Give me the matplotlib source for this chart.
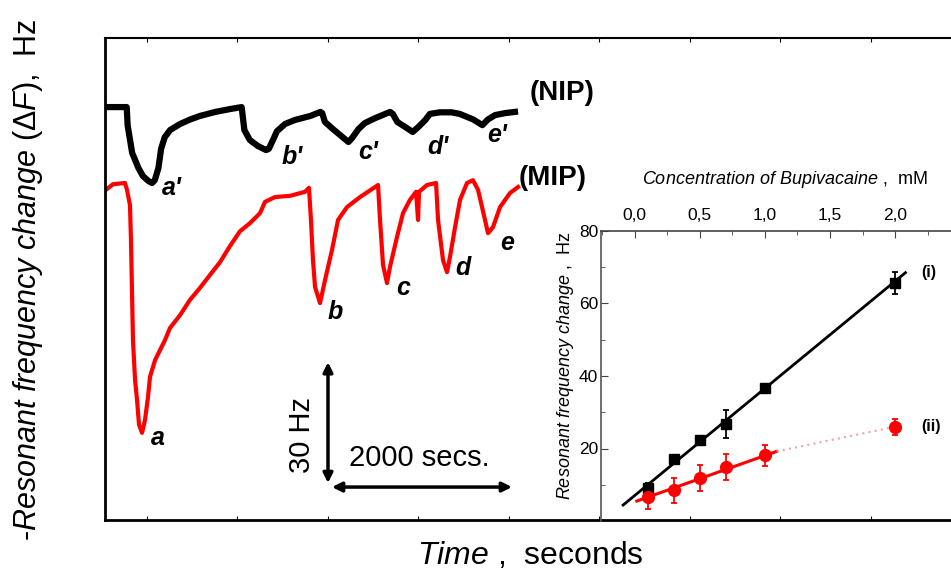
import matplotlib
matplotlib.use("Agg")
import matplotlib.pyplot as plt

plt.rcParams['font.family'] = ['Liberation Sans', 'DejaVu Sans']
plt.rcParams['mathtext.fontset'] = 'custom'
plt.rcParams['mathtext.rm'] = 'Liberation Sans'
plt.rcParams['mathtext.it'] = 'Liberation Sans:italic'
plt.rcParams['mathtext.bf'] = 'Liberation Sans:bold'

# --- main sensorgram (time in s, -dF in Hz, arbitrary offset) ---
nip_t = [20, 240, 250, 300, 370, 420, 480, 520, 550, 590, 620, 660, 720, 830, 940,
         1050, 1220, 1380, 1510, 1540, 1600, 1690, 1780, 1810, 1860, 1900, 1990,
         2100, 2270, 2380, 2400, 2430, 2520, 2600, 2690, 2730, 2800, 2870, 2980,
         3150, 3180, 3230, 3320, 3400, 3460, 3540, 3590, 3700, 3830, 3920, 4070,
         4170, 4230, 4310, 4420, 4530]
nip_f = [102.8, 102.8, 98.3, 91.4, 87.6, 85.6, 84.4, 83.9, 84.6, 87.6, 92.4, 95.3,
         97.1, 98.6, 99.7, 100.6, 101.6, 102.3, 102.8, 97.1, 94.6, 93.1, 92.1, 92.4,
         94.8, 96.8, 98.6, 99.6, 100.6, 101.6, 101.3, 99.1, 97.3, 95.8, 94.1, 95.1,
         97.3, 98.8, 100.0, 101.6, 101.1, 99.1, 97.8, 96.6, 97.8, 99.6, 101.1, 101.5,
         101.5, 101.1, 99.7, 98.3, 99.7, 100.8, 101.3, 101.6]

mip_t = [11, 88, 221, 243, 276, 287, 298, 309, 332, 354, 376, 409, 442, 475, 497,
         553, 608, 663, 718, 829, 939, 1050, 1160, 1271, 1381, 1492, 1602, 1713,
         1768, 1879, 2044, 2210, 2254, 2276, 2298, 2321, 2376, 2431, 2508, 2575,
         2674, 2818, 2984, 3017, 3039, 3072, 3116, 3149, 3227, 3293, 3370, 3437,
         3459, 3470, 3558, 3658, 3680, 3735, 3779, 3812, 3868, 3923, 4000, 4066,
         4122, 4199, 4232, 4287, 4365, 4475, 4564]
mip_f = [82.2, 83.6, 83.9, 82.2, 78.4, 69.7, 57.3, 44.8, 34.9, 29.9, 23.7, 21.7,
         24.9, 30.6, 35.6, 39.8, 42.3, 44.8, 47.8, 51.0, 54.8, 57.8, 61.0, 64.2,
         68.2, 71.9, 73.9, 76.4, 79.2, 80.4, 80.7, 81.7, 82.7, 74.7, 64.7, 58.0,
         54.0, 59.7, 67.2, 74.7, 77.9, 80.4, 82.9, 83.4, 74.7, 63.5, 59.0, 63.0,
         70.5, 76.4, 79.7, 81.7, 74.7, 81.7, 83.4, 83.9, 74.7, 64.7, 61.7, 65.5,
         72.9, 79.7, 83.9, 84.6, 82.2, 74.7, 71.4, 72.9, 77.9, 81.4, 82.9]

peak_labels = ["a'", "b'", "c'", "d'", "e'", "a", "b", "c", "d", "e"]

# --- inset: calibration ---
conc = [0.1, 0.3, 0.5, 0.7, 1.0, 2.0]
nip_resp = [9.0, 17.0, 22.3, 26.7, 36.8, 65.7]
nip_err = [1.5, 1.2, 1.0, 3.8, 0.8, 3.0]
mip_resp = [6.6, 8.5, 11.8, 14.8, 18.1, 26.0]
mip_err = [3.3, 3.5, 3.6, 3.6, 3.0, 2.2]
fit_i_x = [-0.09, 2.08]
fit_i_y = [4.4, 68.5]
fit_ii_x = [0.015, 1.09]
fit_ii_y = [5.5, 19.2]
ext_ii_x = [1.09, 2.0]
ext_ii_y = [19.2, 26.0]
conc_ticks = [0.0, 0.5, 1.0, 1.5, 2.0]
conc_ticklabels = ['0,0', '0,5', '1,0', '1,5', '2,0']
resp_ticks = [20, 40, 60, 80]

W, H = 951, 573
fig = plt.figure(figsize=(W / 100, H / 100), dpi=100)

ax = fig.add_axes([105 / W, (H - 520) / H, (W - 105) / W, 482 / H])
ax.plot(nip_t, nip_f, color='black', lw=4.5, solid_joinstyle='round')
ax.plot(mip_t, mip_f, color='#ff0000', lw=3, solid_joinstyle='round')
ax.set_xlim(0, 9348)
ax.set_ylim(0, 120)
ax.set_xticks([464 + 1000 * k for k in range(9)])
ax.set_yticks([])
ax.tick_params(axis='x', direction='in', length=3, width=0.8, top=True,
               labelbottom=False, labeltop=False)
ax.spines['right'].set_visible(False)
ax.spines['left'].set_linewidth(2)
ax.spines['bottom'].set_linewidth(2)
ax.spines['top'].set_linewidth(1.5)

lab_pos = [(740, 82.6), (2066, 90.4), (2906, 91.6), (3680, 92.9), (4332, 95.8),
           (586, 20.4), (2542, 51.8), (3293, 57.8), (3956, 62.7), (4442, 69.0)]
for s, (x, y) in zip(peak_labels, lab_pos):
    ax.text(x, y, s, fontsize=18, fontweight='bold', fontstyle='italic',
            ha='center', va='center')
ax.text(5050, 106.3, '(NIP)', fontsize=20, fontweight='bold', ha='center', va='center')
ax.text(4950, 85.1, '(MIP)', fontsize=20, fontweight='bold', ha='center', va='center')

# scale bars
ax.annotate('', xy=(2464, 39.3), xytext=(2464, 9.2),
            arrowprops=dict(arrowstyle='<|-|>', color='black', lw=2.5, mutation_scale=14,
                            shrinkA=0, shrinkB=0))
ax.annotate('', xy=(2508, 8.2), xytext=(4497, 8.2),
            arrowprops=dict(arrowstyle='<|-|>', color='black', lw=2.5, mutation_scale=14,
                            shrinkA=0, shrinkB=0))
ax.text(2177, 21.2, '30 Hz', fontsize=21, rotation=90, ha='center', va='center')
ax.text(3470, 15.4, '2000 secs.', fontsize=21, ha='center', va='center')

fig.text(530 / W, 1 - 555 / H, r'$\mathit{Time}$ ,  seconds', fontsize=23,
         ha='center', va='center')
fig.text(28 / W, 1 - 280 / H, r'-$\mathit{Resonant\ frequency\ change\ (\Delta F)}$,  Hz',
         fontsize=22, rotation=90, ha='center', va='center')

# inset
ax_in = fig.add_axes([601 / W, (H - 521) / H, (W - 601) / W, 290 / H])
ax_in.patch.set_alpha(0)
ax_in.plot(fit_i_x, fit_i_y, color='black', lw=2)
ax_in.plot(fit_ii_x, fit_ii_y, color='#ff0000', lw=2.2)
ax_in.plot(ext_ii_x, ext_ii_y, color='#f4a3a3', lw=1.5, ls=(0, (1, 2)))
ax_in.errorbar(conc, nip_resp, yerr=nip_err, fmt='s', color='black', ms=7,
               capsize=2.5, elinewidth=1.3, capthick=1.3)
ax_in.errorbar(conc, mip_resp, yerr=mip_err, fmt='o', color='#ff0000', ms=8.5,
               capsize=2.5, elinewidth=1.3, capthick=1.3)
ax_in.set_xlim(-0.26, 2.43)
ax_in.set_ylim(0, 80)
ax_in.set_xticks(conc_ticks)
ax_in.set_xticklabels(conc_ticklabels)
ax_in.set_xticks([-0.25, 0.25, 0.75, 1.25, 1.75, 2.25], minor=True)
ax_in.set_yticks(resp_ticks)
ax_in.set_yticks([10, 30, 50, 70], minor=True)
ax_in.xaxis.tick_top()
ax_in.tick_params(which='both', direction='in', labelsize=12.5, color='#444444')
ax_in.tick_params(axis='x', which='major', length=5, pad=6)
ax_in.tick_params(axis='x', which='minor', length=3)
ax_in.tick_params(axis='y', which='major', length=5, pad=2)
ax_in.tick_params(axis='y', which='minor', length=3)
ax_in.spines['right'].set_visible(False)
ax_in.spines['bottom'].set_visible(False)
ax_in.spines['left'].set_color('#555555')
ax_in.spines['top'].set_color('#444444')
ax_in.spines['left'].set_linewidth(1.2)
ax_in.spines['top'].set_linewidth(1.2)
ax_in.text(2.2, 68.5, '(i)', fontsize=11.5, fontweight='bold', va='center')
ax_in.text(2.2, 26.0, '(ii)', fontsize=11.5, fontweight='bold', va='center')

fig.text(785 / W, 1 - 180 / H, r'$\mathit{Concentration\ of\ Bupivacaine}$ ,  mM',
         fontsize=13, ha='center', va='center')
fig.text(566 / W, 1 - 366 / H, r'$\mathit{Resonant\ frequency\ change}$ ,  Hz',
         fontsize=13, rotation=90, ha='center', va='center')

fig.savefig('out.png', dpi=100)
